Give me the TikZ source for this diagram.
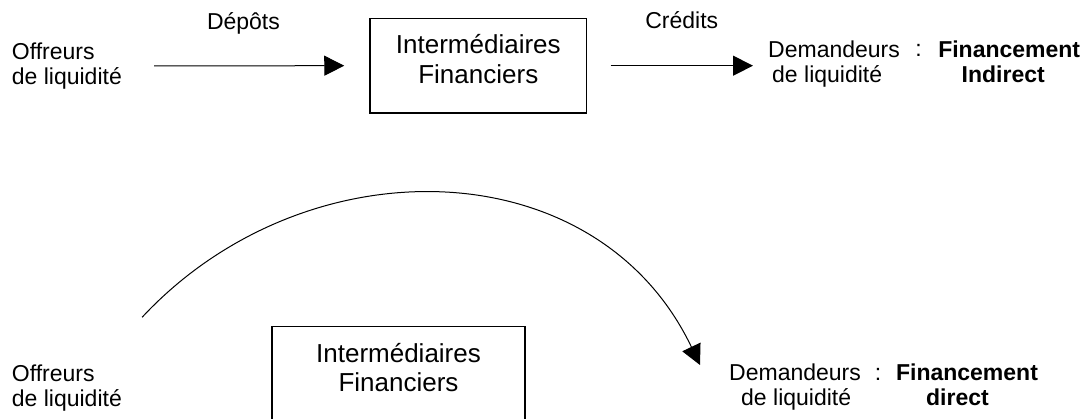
\documentclass[tikz,border=0pt]{standalone}
\usepackage{fontspec}
\setmainfont{Liberation Sans}
\usetikzlibrary{positioning,arrows.meta}

\begin{document}
\begin{tikzpicture}[
    x=1pt, y=-1pt,
    side/.style={inner sep=0pt, font=\fontsize{23}{25}\selectfont, align=left},
    fin/.style={inner sep=0pt, font=\fontsize{23}{25}\selectfont\bfseries, align=center},
    lbl/.style={inner sep=0pt, font=\fontsize{23}{25}\selectfont},
    ibox/.style={rectangle, draw, line width=1.4pt, inner sep=0pt, minimum height=94.7pt},
    itxt/.style={inner sep=0pt, font=\fontsize{26}{29.5}\selectfont, align=center, yshift=6.7pt},
    arr/.style={-{Triangle[length=20pt, width=20pt]}, line width=1pt}
]
    \useasboundingbox (0,0) rectangle (1089,419);

    \node[side, anchor=north west] (offT) at (11.7,42.5) {Offreurs\\de liquidité};
    \node[ibox, minimum width=216.7pt, label={[itxt]center:Intermédiaires\\Financiers}] (ifT) at (478.3,65.7) {};
    \node[side, anchor=north west] (demT) at (768,40.5) {Demandeurs\\\hspace*{4pt}de liquidité};
    \node[lbl, anchor=base] (colT) at (918.5,57) {:};
    \node[fin, anchor=north] (finT) at (1009.2,40.5) {Financement\\Indirect\hspace*{12pt}};

    \node[side, anchor=north west] (offB) at (11.7,364.9) {Offreurs\\de liquidité};
    \node[ibox, minimum width=253pt, label={[itxt]center:Intermédiaires\\Financiers}] (ifB) at (398.5,374.05) {};
    \node[side, anchor=north west] (demB) at (729,363.5) {Demandeurs\\\hspace*{12pt}de liquidité};
    \node[lbl, anchor=base] (colB) at (878,380) {:};
    \node[fin, anchor=north] (finB) at (967,363.5) {Financement\\direct\hspace*{19pt}};

    \draw[arr] ([xshift=32pt]offT.east) -- node[lbl, pos=0.47, anchor=base, yshift=36.4pt] (depT) {Dépôts} ([xshift=-25pt]ifT.west);
    \draw[arr, shorten >=15pt] ([xshift=23.3pt]ifT.east) -- node[lbl, pos=0.452, anchor=base, yshift=36.7pt] (creT) {Crédits} (ifT.east -| demT.west);
    \draw[arr] ([shift={(20pt,47.6pt)}]offB.north east) .. controls +(47:240pt) and +(115.5:240pt) .. ([shift={(-29pt,-1.5pt)}]demB.north west);
\end{tikzpicture}
\end{document}
